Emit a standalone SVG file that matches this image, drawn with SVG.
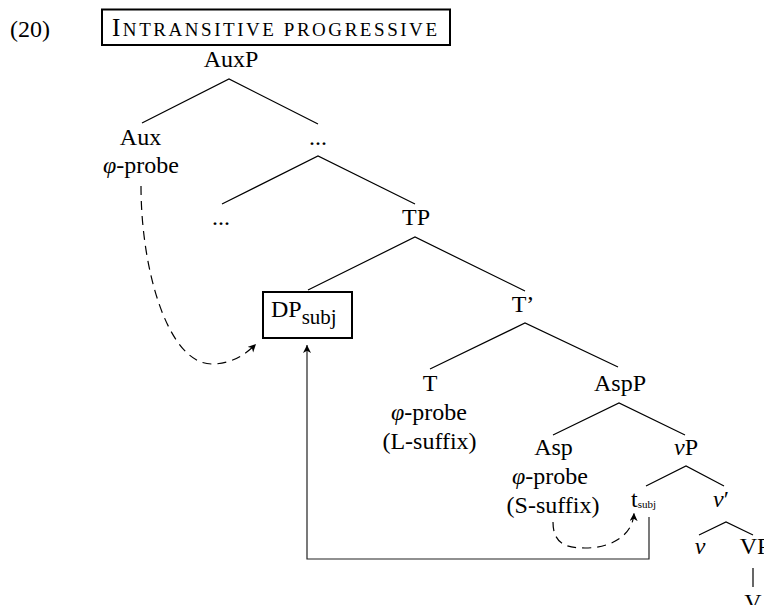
<svg xmlns="http://www.w3.org/2000/svg" width="764" height="605" viewBox="0 0 764 605" font-family="'Liberation Serif', 'DejaVu Serif', serif">
  <style>
    text { font-family: 'Liberation Serif', 'DejaVu Serif', serif; font-size: 24px; fill: #000; }
    .mid { text-anchor: middle; }
    .it { font-style: italic; }
    .edge { stroke: #000; stroke-width: 1.2; fill: none; }
    .move { stroke: #222; stroke-width: 1.2; fill: none; }
    .dash { stroke-dasharray: 9 6; }
    .box { fill: #fff; stroke: #000; stroke-width: 2; }
  </style>
  <defs>
    <marker id="head" markerUnits="userSpaceOnUse" markerWidth="12" markerHeight="10" refX="8" refY="4" orient="auto">
      <path d="M0,0 L8,4 L0,8 L2.2,4 z" fill="#000"/>
    </marker>
  </defs>

  <rect width="764" height="605" fill="#fff"/>

  <!-- example number and heading -->
  <g id="heading">
    <text x="10" y="37">(20)</text>
    <rect class="box" x="102" y="9.5" width="348" height="35.5"/>
    <text x="112" y="36" textLength="325" lengthAdjust="spacing"><tspan font-size="25">I</tspan><tspan font-size="19">NTRANSITIVE PROGRESSIVE</tspan></text>
  </g>

  <!-- tree branches -->
  <g id="connectors">
    <path class="edge" d="M142,123 L229,79 L318,124"/>
    <path class="edge" d="M222,204 L318,156 L415,204"/>
    <path class="edge" d="M308,290 L415,237 L525,291"/>
    <path class="edge" d="M430,369 L525,323 L618,367"/>
    <path class="edge" d="M553,435 L619,403 L685,435"/>
    <path class="edge" d="M646,486 L686,466 L724,486"/>
    <path class="edge" d="M699,535 L726,522 L753,535"/>
    <path class="edge" d="M753,568 L753,587"/>
    <!-- movement and agree arrows -->
    <path class="move" d="M649,517 V559 H307 V345" marker-end="url(#head)"/>
    <path class="edge dash" d="M141,186 C141,270 168,364 212,364 C232,364 246,354 256,344" marker-end="url(#head)"/>
    <path class="edge dash" d="M553,522 C553,545 568,548 585,548 C612,548 633,535 634,513" marker-end="url(#head)"/>
  </g>

  <g id="auxp"><text class="mid" x="231" y="67">AuxP</text></g>
  <g id="aux">
    <text class="mid" x="140.5" y="145">Aux</text>
    <text class="mid" x="141" y="173"><tspan class="it">φ</tspan>-probe</text>
  </g>
  <g id="dots1"><text class="mid" x="318" y="145">...</text></g>
  <g id="dots2"><text class="mid" x="221" y="225">...</text></g>
  <g id="tp"><text class="mid" x="416" y="225">TP</text></g>
  <g id="dp-subj">
    <rect class="box" x="263" y="292" width="89" height="46"/>
    <text x="271" y="317">DP<tspan font-size="21" dy="7">subj</tspan></text>
  </g>
  <g id="t-bar"><text class="mid" x="523" y="312">T’</text></g>
  <g id="t">
    <text class="mid" x="430" y="391">T</text>
    <text class="mid" x="429" y="420"><tspan class="it">φ</tspan>-probe</text>
    <text class="mid" x="429.5" y="449">(L-suffix)</text>
  </g>
  <g id="aspp"><text class="mid" x="620" y="391">AspP</text></g>
  <g id="asp">
    <text class="mid" x="553.5" y="455">Asp</text>
    <text class="mid" x="550" y="484"><tspan class="it">φ</tspan>-probe</text>
    <text class="mid" x="553" y="513">(S-suffix)</text>
  </g>
  <g id="vp"><text class="mid" x="686" y="455"><tspan class="it">v</tspan>P</text></g>
  <g id="t-subj"><text x="631" y="507" font-size="16">t<tspan font-size="11" dy="1">subj</tspan></text></g>
  <g id="v-bar"><text class="mid" x="721" y="507"><tspan class="it">v</tspan>′</text></g>
  <g id="v"><text class="mid it" x="700" y="554">v</text></g>
  <g id="vp-lower"><text class="mid" x="755" y="554">VP</text></g>
  <g id="verb"><text class="mid" x="753" y="610">V</text></g>
</svg>
